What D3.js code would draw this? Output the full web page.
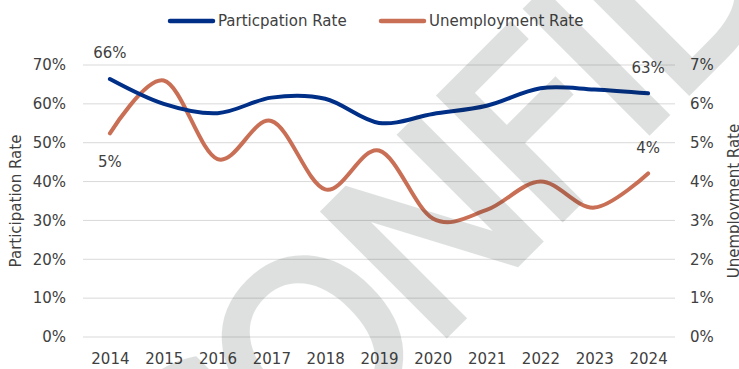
<!DOCTYPE html>
<html>
<head>
<meta charset="utf-8">
<script src="https://cdn.jsdelivr.net/npm/d3@7"></script>
<style>
  html, body { margin: 0; padding: 0; background: #fff; }
  svg { display: block; }
  text { font-family: "DejaVu Sans", sans-serif; fill: #404040; }
</style>
</head>
<body>
<svg id="chart" width="739" height="369"></svg>
<script>
// Labour market indicators, 2014–2024
const years = ["2014", "2015", "2016", "2017", "2018", "2019", "2020", "2021", "2022", "2023", "2024"];
const participationRate = [66.4, 60.0, 57.6, 61.6, 61.3, 55.1, 57.4, 59.5, 64.0, 63.7, 62.7];
const unemploymentRate = [5.24, 6.6, 4.58, 5.56, 3.8, 4.8, 3.05, 3.27, 4.0, 3.33, 4.21];
const leftTicks = [0, 10, 20, 30, 40, 50, 60, 70];
const rightTicks = [0, 1, 2, 3, 4, 5, 6, 7];
const seriesNames = ["Particpation Rate", "Unemployment Rate"];
const markText = "CONFIDENTIAL";

const W = 739, H = 369;
const margin = { left: 83, right: 64, top: 65, bottom: 32 };
const colors = { participation: "#002f87", unemployment: "#c96f55", grid: "#d9d9d9" };

const svg = d3.select("#chart");
const plotW = W - margin.left - margin.right;
const plotBottom = H - margin.bottom;

const x = d3.scalePoint().domain(years).range([margin.left, margin.left + plotW]).padding(0.5);
const yL = d3.scaleLinear().domain([0, 70]).range([plotBottom, margin.top]);
const yR = d3.scaleLinear().domain([0, 7]).range([plotBottom, margin.top]);

// horizontal gridlines
svg.append("g")
  .selectAll("line")
  .data(leftTicks)
  .join("line")
  .attr("x1", margin.left)
  .attr("x2", margin.left + plotW)
  .attr("y1", d => yL(d))
  .attr("y2", d => yL(d))
  .attr("stroke", colors.grid)
  .attr("stroke-width", 1);

// left axis
const leftAxis = svg.append("g")
  .attr("transform", `translate(${margin.left - 17},0)`)
  .call(d3.axisLeft(yL).tickValues(leftTicks).tickFormat(d => d + "%").tickSize(0).tickPadding(0));
leftAxis.select(".domain").remove();
leftAxis.selectAll("text").attr("font-size", 15).attr("fill", "#404040").attr("font-family", "DejaVu Sans");

// right axis
const rightAxis = svg.append("g")
  .attr("transform", `translate(${margin.left + plotW + 15},0)`)
  .call(d3.axisRight(yR).tickValues(rightTicks).tickFormat(d => d + "%").tickSize(0).tickPadding(0));
rightAxis.select(".domain").remove();
rightAxis.selectAll("text").attr("font-size", 15).attr("fill", "#404040").attr("font-family", "DejaVu Sans");

// bottom axis
const bottomAxis = svg.append("g")
  .attr("transform", `translate(0,${plotBottom + 10})`)
  .call(d3.axisBottom(x).tickSize(0).tickPadding(6));
bottomAxis.select(".domain").remove();
bottomAxis.selectAll("text").attr("font-size", 15).attr("fill", "#404040").attr("font-family", "DejaVu Sans");

// axis titles
const midY = (margin.top + plotBottom) / 2;
svg.append("text")
  .attr("transform", `translate(21,${midY}) rotate(-90)`)
  .attr("text-anchor", "middle")
  .attr("font-size", 15)
  .text("Participation Rate");
svg.append("text")
  .attr("transform", `translate(${W},${midY}) rotate(-90)`)
  .attr("text-anchor", "middle")
  .attr("font-size", 15)
  .text("Unemployment Rate");

// series lines
const lineL = d3.line().x((d, i) => x(years[i])).y(d => yL(d)).curve(d3.curveCardinal.tension(0));
const lineR = d3.line().x((d, i) => x(years[i])).y(d => yR(d)).curve(d3.curveCardinal.tension(0));

svg.append("path")
  .datum(unemploymentRate)
  .attr("d", lineR)
  .attr("fill", "none")
  .attr("stroke", colors.unemployment)
  .attr("stroke-width", 4)
  .attr("stroke-linecap", "round");

svg.append("path")
  .datum(participationRate)
  .attr("d", lineL)
  .attr("fill", "none")
  .attr("stroke", colors.participation)
  .attr("stroke-width", 4)
  .attr("stroke-linecap", "round");

// data labels at the first and last year
const last = years.length - 1;
const labels = [
  { x: x(years[0]), y: yL(participationRate[0]) - 26, t: Math.round(participationRate[0]) + "%" },
  { x: x(years[0]), y: yR(unemploymentRate[0]) + 28, t: Math.round(unemploymentRate[0]) + "%" },
  { x: x(years[last]), y: yL(participationRate[last]) - 26, t: Math.round(participationRate[last]) + "%" },
  { x: x(years[last]), y: yR(unemploymentRate[last]) - 26, t: Math.round(unemploymentRate[last]) + "%" }
];
svg.append("g")
  .selectAll("text")
  .data(labels)
  .join("text")
  .attr("x", d => d.x)
  .attr("y", d => d.y)
  .attr("dy", "0.35em")
  .attr("text-anchor", "middle")
  .attr("font-size", 15)
  .text(d => d.t);

// legend
const legend = svg.append("g").attr("transform", "translate(0,21)");
const legendItems = [
  { name: seriesNames[0], color: colors.participation, x0: 170 },
  { name: seriesNames[1], color: colors.unemployment, x0: 381 }
];
legendItems.forEach(it => {
  legend.append("line")
    .attr("x1", it.x0).attr("x2", it.x0 + 43)
    .attr("y1", 0).attr("y2", 0)
    .attr("stroke", it.color).attr("stroke-width", 4.5).attr("stroke-linecap", "round");
  legend.append("text")
    .attr("x", it.x0 + 48)
    .attr("y", 0)
    .attr("dy", "0.35em")
    .attr("font-size", 15)
    .text(it.name);
});

// diagonal watermark laid over the chart (translucent group so fill and stroke blend as one)
svg.append("g")
  .attr("opacity", 0.14)
  .append("text")
  .attr("transform", "translate(200,581) rotate(-45)")
  .attr("font-family", "Liberation Sans, Arial, sans-serif")
  .attr("font-size", 238)
  .attr("letter-spacing", -14)
  .style("fill", "#1e2828")
  .style("stroke", "#1e2828")
  .style("stroke-width", 6)
  .style("stroke-linejoin", "miter")
  .text(markText);
</script>
</body>
</html>
